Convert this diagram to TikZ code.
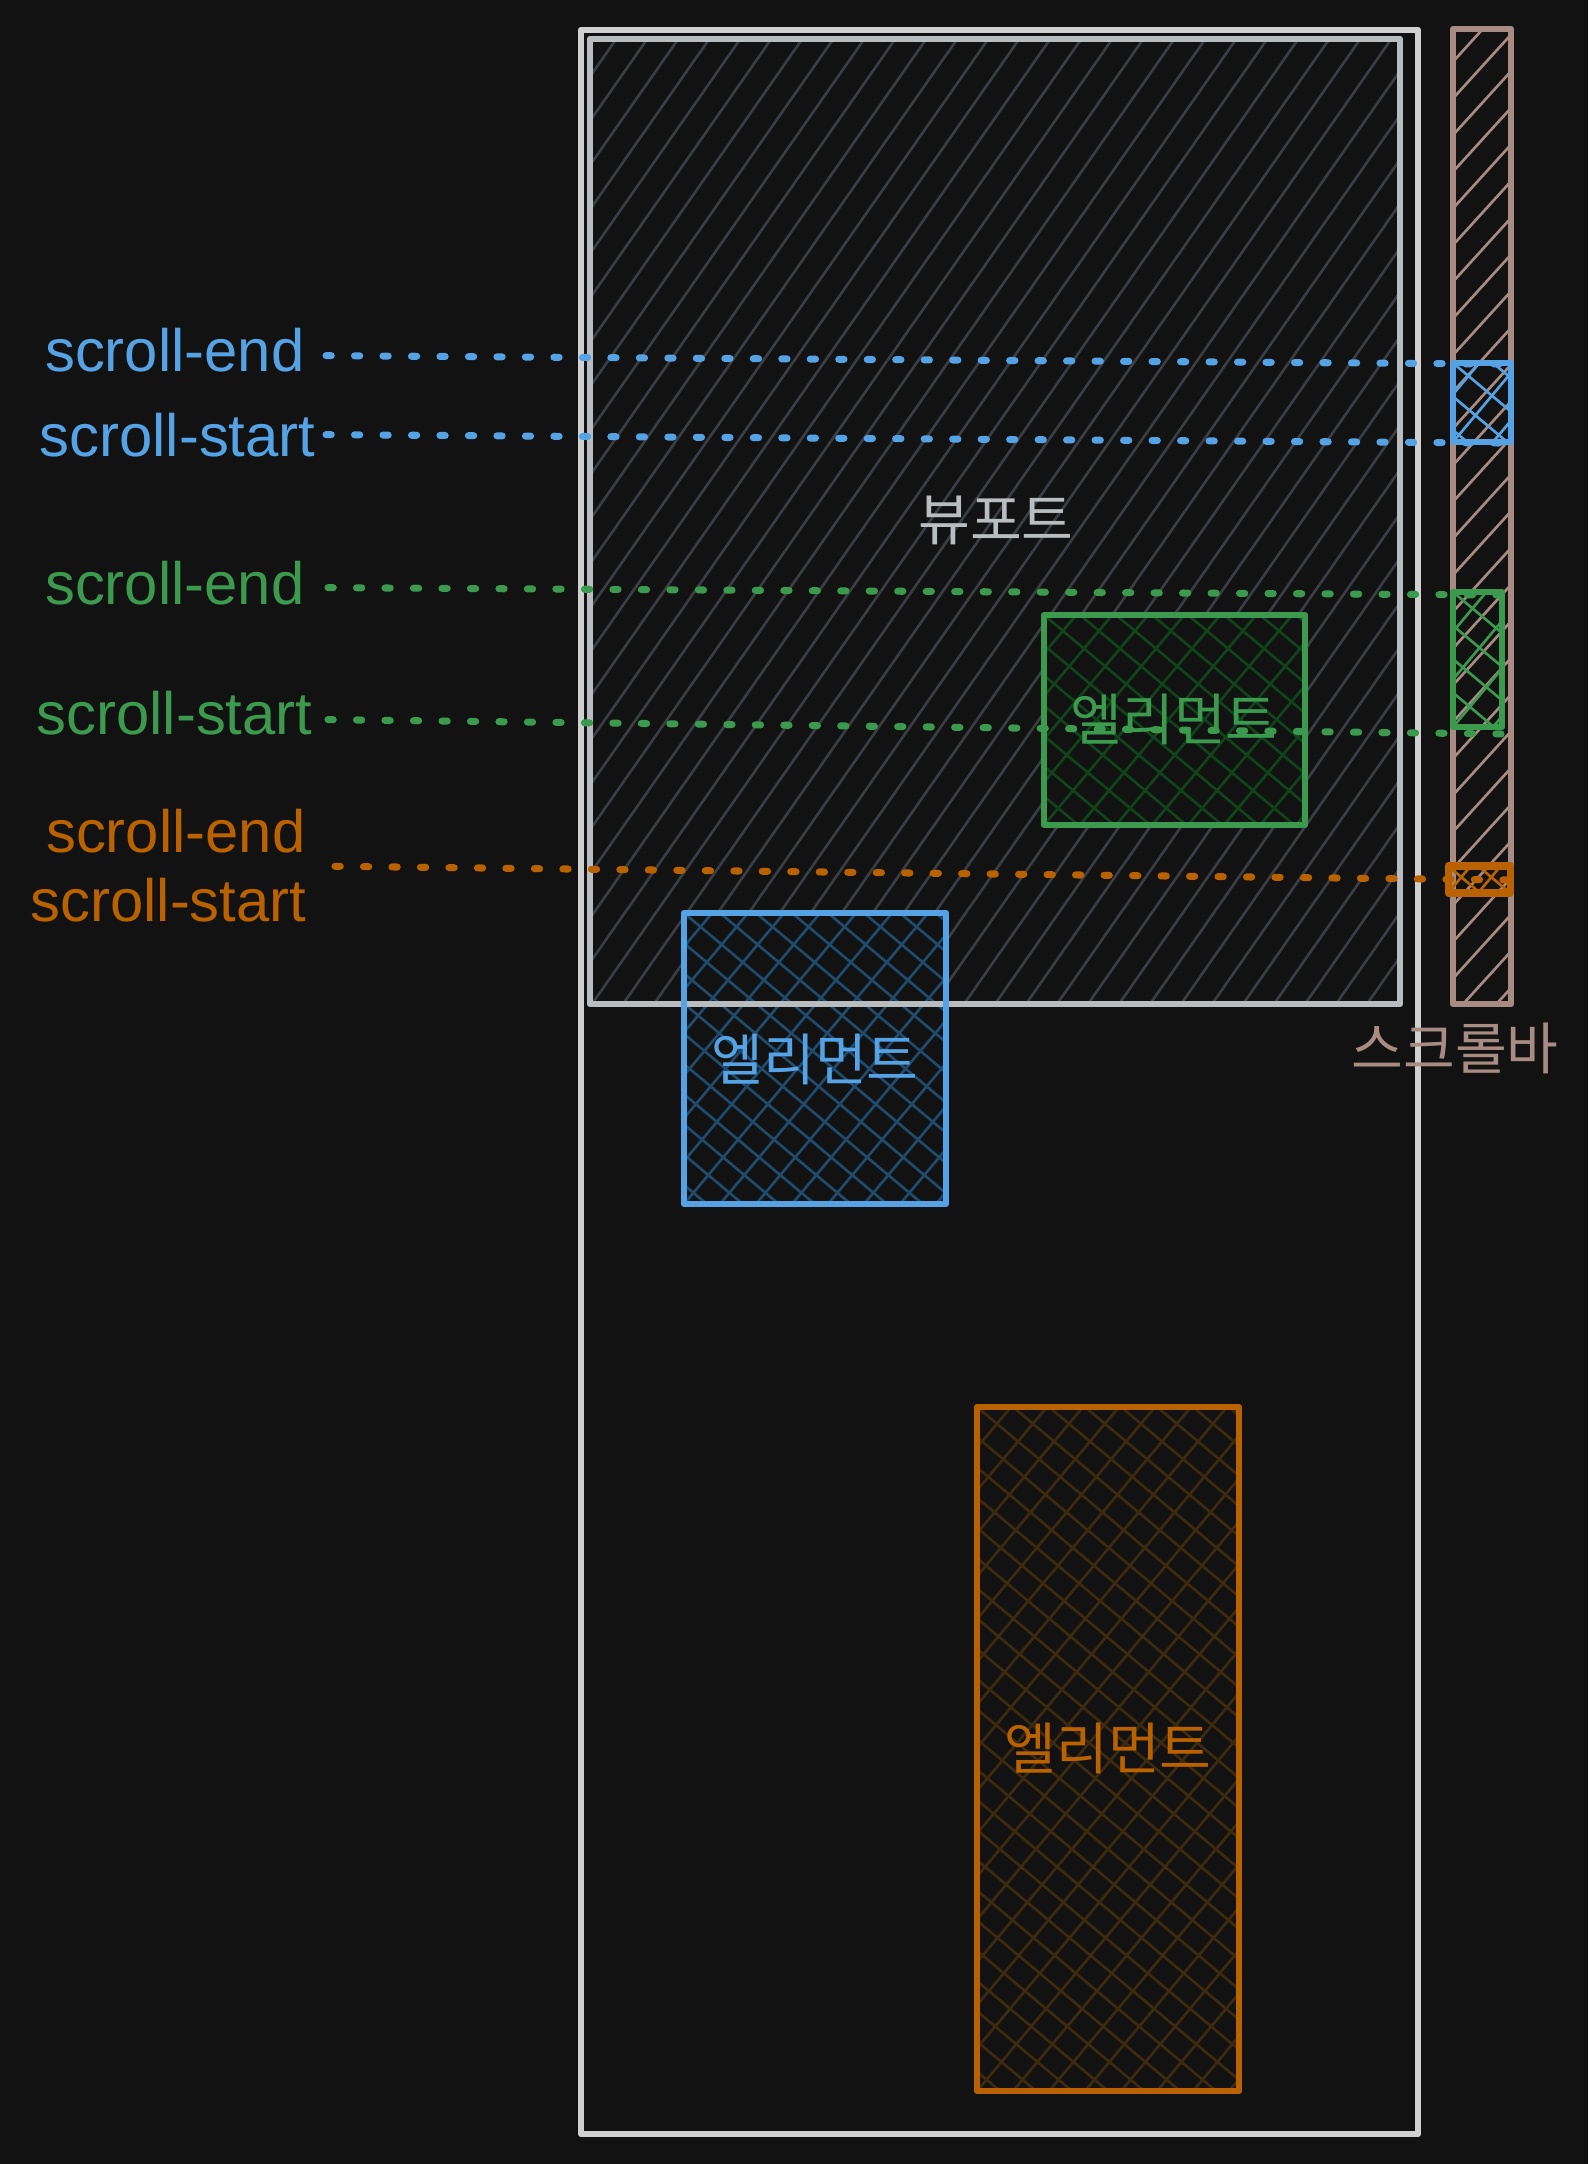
\documentclass[tikz,border=0pt]{standalone}
\usepackage{fontspec}
\newfontfamily\lat{Liberation Sans}
\newfontfamily\kr{Noto Sans CJK KR}
\definecolor{bgc}{HTML}{121212}
\definecolor{pagec}{HTML}{D0D0D0}
\definecolor{vpc}{HTML}{B9BDC0}
\definecolor{vphatch}{HTML}{3A3E42}
\definecolor{bc}{HTML}{55A2E4}
\definecolor{bhatch}{HTML}{1F4B6E}
\definecolor{gc}{HTML}{3B9A4D}
\definecolor{ghatch}{HTML}{10441B}
\definecolor{oc}{HTML}{BA6200}
\definecolor{ohatch}{HTML}{3E2A0E}
\definecolor{sbc}{HTML}{A88B83}
\newcommand\xhatch[6]{%
  \begin{scope}
    \clip (#1,#2) rectangle (#3,#4);
    \foreach \k in {-26,...,9} {
      \draw[#6] ({#1+\k*#5},#4) -- ++(965,-1150);
      \draw[#6] ({#1+\k*#5},#2) -- ++(1150,965);
    }
  \end{scope}}

\begin{document}
\begin{tikzpicture}[x=0.01cm,y=-0.01cm,
    lbl/.style={anchor=base east,inner sep=0pt,font=\lat\fontsize{17}{20}\selectfont},
    krlbl/.style={inner sep=0pt,font=\kr\fontsize{16}{19}\selectfont},
    box/.style={line width=1.8pt,line join=round},
    hatchline/.style={line width=0.75pt},
    dotline/.style={line width=2pt,line cap=round,dash pattern=on 1.5pt off 6.6pt}]
    \fill[bgc] (0,0) rectangle (1588,2164);
    \useasboundingbox (0,0) rectangle (1588,2164);
    \draw[box,pagec] (581,30) rectangle (1418,2134);
    \begin{scope}
        \clip (590,39) rectangle (1400,1004);
        \foreach \x in {-90,-59,...,1400} \draw[hatchline,vphatch] (\x,1004) -- ++(676,-966);
    \end{scope}
    \fill[bgc] (1044,615) rectangle (1305,825);
    \xhatch{1044}{615}{1305}{825}{36}{hatchline,ghatch}
    \fill[bgc] (684,913) rectangle (946,1204);
    \xhatch{684}{913}{946}{1204}{36}{hatchline,bhatch}
    \fill[bgc] (977,1407) rectangle (1239,2091);
    \xhatch{977}{1407}{1239}{2091}{36}{hatchline,ohatch}
    \draw[box,vpc] (590,39) rectangle (1400,1004);
    \draw[box,gc] (1044,615) rectangle (1305,825);
    \draw[box,bc] (684,913) rectangle (946,1204);
    \draw[box,oc] (977,1407) rectangle (1239,2091);
    \begin{scope}
        \clip (1453,29) rectangle (1511,1004);
        \foreach \k in {-1,...,28} \draw[hatchline,sbc] (1453,{61.7+36.67*\k}) -- ++(60,-66);
    \end{scope}
    \draw[box,sbc] (1453,29) rectangle (1511,1004);
    \xhatch{1453}{363}{1511}{442}{40}{hatchline,bc}
    \draw[box,bc] (1453,363) rectangle (1511,442);
    \xhatch{1453}{592}{1502}{727}{40}{hatchline,gc}
    \draw[box,gc] (1453,592) rectangle (1502,727);
    \xhatch{1448}{866}{1510}{893}{30}{hatchline,oc}
    \draw[box,oc,line width=2pt] (1448,866) rectangle (1510,893);
    \node[krlbl,text=vpc] (vport) at (996,520) {뷰포트};
    \node[krlbl,text=sbc] (sbar) at (1455,1048) {스크롤바};
    \node[krlbl,text=gc] (gel) at (1174,719) {엘리먼트};
    \node[krlbl,text=bc] (bel) at (815,1059) {엘리먼트};
    \node[krlbl,text=oc] (oel) at (1108,1748) {엘리먼트};
    \node[lbl,text=bc] (bend) at (305,372) {scroll-end};
    \node[lbl,text=bc] (bstart) at (316,456) {scroll-start};
    \node[lbl,text=gc] (gend) at (305,604) {scroll-end};
    \node[lbl,text=gc] (gstart) at (313,734) {scroll-start};
    \node[lbl,text=oc] (oend) at (306,852) {scroll-end};
    \node[lbl,text=oc] (ostart) at (307,921) {scroll-start};
    \coordinate (bendtip) at (1500,364);
    \coordinate (bstarttip) at (1500,443);
    \coordinate (gendtip) at (1500,595);
    \coordinate (gstarttip) at (1504,734);
    \coordinate (otip) at (1508,880);
    \draw[dotline,bc] ([shift={(21,5)}]bend.east) -- (bendtip);
    \draw[dotline,bc] ([shift={(10,0)}]bstart.east) -- (bstarttip);
    \draw[dotline,gc] ([shift={(23,5)}]gend.east) -- (gendtip);
    \draw[dotline,gc] ([shift={(15,7)}]gstart.east) -- (gstarttip);
    \draw[dotline,oc] ([shift={(29,13)}]oend.south east) -- (otip);
\end{tikzpicture}
\end{document}
